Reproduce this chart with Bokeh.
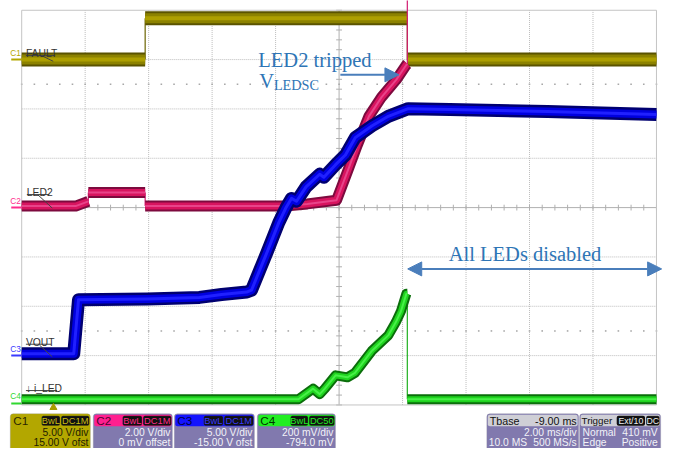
import math
from bokeh.plotting import figure
from bokeh.models import Range1d, Label, BoxAnnotation, Arrow, NormalHead
from bokeh.embed import file_html
from bokeh.resources import INLINE

# ---------------- data (time in ms, channel values in channel units) ----------------
fault_t = [-1.0, 2.89, 2.89, 11.15, 11.15, 19.0]
fault_v = [0.0, 0.0, 4.2, 4.2, 0.0, 0.0]                      # V

led2_t = [-1.0, 0.70, 1.10, 1.10, 2.89, 2.89, 7.30, 8.00, 8.92, 9.29, 9.57,
          9.94, 10.34, 10.80, 11.11, 11.15, 11.15, 19.0]
led2_v = [0.06, 0.06, 0.25, 0.61, 0.61, 0.06, 0.06, 0.15, 0.30, 1.55, 2.52,
          3.70, 4.48, 5.18, 5.77, 5.82, 12.0, 12.0]              # V

vout_t = [-1.0, 0.64, 0.79, 2.95, 4.60, 5.30, 6.09, 6.24, 6.74, 7.10, 7.32,
          7.50, 7.66, 7.96, 8.39, 8.52, 8.89, 9.20, 9.51, 10.03, 10.55,
          11.18, 12.49, 15.57, 19.0]
vout_v = [0.2, 0.2, 5.65, 5.75, 5.90, 6.20, 6.44, 6.63, 10.55, 13.48, 14.95,
          15.93, 15.64, 17.10, 18.38, 18.08, 19.35, 20.33, 22.09, 23.27, 24.25,
          25.03, 24.93, 24.74, 24.44]                            # V

iled_t = [-1.0, 7.72, 8.18, 8.39, 8.55, 8.89, 9.26, 9.50, 10.03, 10.55,
          10.79, 10.95, 11.12, 11.15, 11.15, 19.0]
iled_v = [17, 17, 60, 38, 60, 114, 106, 124, 213, 276, 330, 374, 445, 445, 17, 17]  # mV

# channel settings: (units per div, offset)
ch_scale = {"c1": (5.0, 15.0), "c2": (2.0, 0.0), "c3": (5.0, -15.0), "c4": (200.0, -794.0)}
ms_per_div = 2.0
t_left = -1.0
n_xdiv = 10
n_ydiv = 8
trigger_t = 0.0

# ---------------- layout (reference pixel geometry) ----------------
REF_W, REF_H = 683, 464
W, H = 667, 448
GX0, PX_DIV_X = 21.7, 65.0
GY_MID, PX_DIV_Y = 214.5, 51.1
FS = W / REF_W


def X(px):
    return t_left + (px - GX0) / PX_DIV_X * ms_per_div


def Y(py):
    return (GY_MID - py) / PX_DIV_Y


p = figure(width=W, height=H, x_range=Range1d(X(0), X(REF_W)),
           y_range=Range1d(Y(REF_H), Y(0)), output_backend="svg",
           toolbar_location=None, min_border=0, x_axis_type=None, y_axis_type=None)
p.outline_line_color = None
p.background_fill_color = "white"
p.border_fill_color = "white"

p.extra_y_ranges = {name: Range1d(Y(REF_H) * s - o, Y(0) * s - o)
                    for name, (s, o) in ch_scale.items()}

# ---------------- graticule ----------------
t_right = t_left + n_xdiv * ms_per_div
t_mid = t_left + n_xdiv / 2 * ms_per_div
half = n_ydiv / 2
gx = [t_left + k * ms_per_div for k in range(1, n_xdiv) if k != n_xdiv // 2]
gy = [k for k in range(-int(half) + 1, int(half)) if k != 0]
p.segment(x0=gx, y0=[-half] * len(gx), x1=gx, y1=[half] * len(gx),
          line_color="#bcbcbc", line_width=1, line_dash="1 1")
p.segment(x0=[t_left] * len(gy), y0=gy, x1=[t_right] * len(gy), y1=gy,
          line_color="#bcbcbc", line_width=1, line_dash="1 1")
# center cross
p.segment(x0=[t_mid, t_left], y0=[-half, 0], x1=[t_mid, t_right], y1=[half, 0],
          line_color="#b0b0b0", line_width=1)
dxt = 3 / PX_DIV_X * ms_per_div
dyt = 3 / PX_DIV_Y
vt = [-half + 0.2 * k for k in range(int(n_ydiv * 5) + 1)]
ht = [t_left + 0.2 * ms_per_div * k for k in range(n_xdiv * 5 + 1)]
p.segment(x0=[t_mid - dxt] * len(vt), y0=vt, x1=[t_mid + dxt] * len(vt), y1=vt,
          line_color="#b0b0b0", line_width=1)
p.segment(x0=ht, y0=[-dyt] * len(ht), x1=ht, y1=[dyt] * len(ht),
          line_color="#b0b0b0", line_width=1)
# dotted rows
for yy in (2.5, -2.5):
    p.scatter(ht, [yy] * len(ht), marker="square", size=1.6,
              fill_color="#a8a8a8", line_color=None)
# border
p.segment(x0=[t_left, t_left, t_left, t_right], y0=[-half, half, -half, -half],
          x1=[t_right, t_right, t_left, t_right], y1=[-half, half, half, half],
          line_color="#c4c4c4", line_width=1)


# ---------------- traces ----------------
def draw_trace(t, v, rng, layers, thin_color):
    px, py, thin_x, thin_y = [t[0]], [v[0]], [], []
    for i in range(len(t) - 1):
        if t[i + 1] != t[i]:
            px.append(t[i + 1])
            py.append(v[i + 1])
        else:
            thin_x.append([t[i], t[i + 1]])
            thin_y.append([v[i], v[i + 1]])
            px += [math.nan, t[i + 1]]
            py += [math.nan, v[i + 1]]
    if thin_x:
        p.multi_line(thin_x, thin_y, line_color=thin_color, line_width=1.2,
                     y_range_name=rng)
    for col, w in layers:
        p.line(px, py, line_color=col, line_width=w, line_join="round",
               line_cap="butt", y_range_name=rng)


draw_trace(fault_t, fault_v, "c1",
           [("#5a5300", 14), ("#8c8200", 10), ("#ad9f00", 4)], "#6b6400")
draw_trace(led2_t, led2_v, "c2",
           [("#7d0a3e", 11), ("#d8145f", 7), ("#e8448a", 2)], "#d21a70")
draw_trace(vout_t, vout_v, "c3",
           [("#000070", 13), ("#0000e0", 8), ("#2020ff", 3)], "#0000c0")
draw_trace(iled_t, iled_v, "c4",
           [("#0b6e0b", 10), ("#1fd41f", 6), ("#48f048", 2)], "#20b020")

# channel zero-level markers and tags
tag_colors = {"c1": "#b3a700", "c2": "#ff2e8e", "c3": "#3a3aff", "c4": "#30d830"}
for name, col in tag_colors.items():
    p.segment(x0=[X(11)], y0=[0], x1=[X(21.5)], y1=[0], line_color=col,
              line_width=2, y_range_name=name)
    lab = Label(x=X(10), y=0, y_range_name=name, text=name.upper(),
                text_font_size=f"{8.5 * FS:.1f}px", text_color=col,
                text_font="Liberation Sans", text_baseline="bottom",
                y_offset=2)
    p.add_layout(lab)

# trigger marker
p.scatter([trigger_t], [Y(421.5)], marker="triangle", size=7,
          fill_color="#a89c00", line_color="#a89c00")

# trace name labels with underline / pointer
trace_labels = [("FAULT", 26, 55, 56, (42, 57, 54, 63)),
                ("LED2", 27, 199, 50, (38, 201, 53, 215)),
                ("VOUT", 26, 354, 52, (40, 357, 53, 369)),
                ("\u2193 i_LED", 26, 402, 58, None)]
for txt_, x0, yb, x1, ptr in trace_labels:
    p.add_layout(Label(x=X(x0), y=Y(yb), text=txt_, text_font="Liberation Sans",
                       text_font_size=f"{10.5 * FS:.1f}px", text_color="#333333",
                       text_baseline="alphabetic"))
    p.segment(x0=[X(x0)], y0=[Y(yb + 2)], x1=[X(x1)], y1=[Y(yb + 2)],
              line_color="#444444", line_width=1)
    if ptr:
        p.segment(x0=[X(ptr[0])], y0=[Y(ptr[1])], x1=[X(ptr[2])], y1=[Y(ptr[3])],
                  line_color="#444444", line_width=1)

# ---------------- annotations ----------------
ANN = "#2e75b6"
SER = "Liberation Serif"
p.add_layout(Label(x=X(264), y=Y(62), text="LED2 tripped", text_font=SER,
                   text_font_size=f"{21 * FS:.1f}px", text_color=ANN,
                   text_baseline="alphabetic"))
p.add_layout(Label(x=X(265), y=Y(83), text="V", text_font=SER,
                   text_font_size=f"{21 * FS:.1f}px", text_color=ANN,
                   text_baseline="alphabetic"))
p.add_layout(Label(x=X(280), y=Y(88), text="LEDSC", text_font=SER,
                   text_font_size=f"{14.5 * FS:.1f}px", text_color=ANN,
                   text_baseline="alphabetic"))
p.add_layout(Label(x=X(459), y=Y(263), text="All LEDs disabled", text_font=SER,
                   text_font_size=f"{21 * FS:.1f}px", text_color=ANN,
                   text_baseline="alphabetic"))
AR = "#4a7ebb"
p.add_layout(Arrow(end=NormalHead(size=14, fill_color=AR, line_color=AR),
                   x_start=X(348), y_start=Y(77), x_end=X(408), y_end=Y(77),
                   line_color=AR, line_width=2))
p.add_layout(Arrow(start=NormalHead(size=14, fill_color=AR, line_color=AR),
                   end=NormalHead(size=14, fill_color=AR, line_color=AR),
                   x_start=X(417), y_start=Y(278), x_end=X(677), y_end=Y(278),
                   line_color=AR, line_width=2))

# ---------------- info boxes ----------------
SANS = "Liberation Sans"


def box(x0, x1, y0, y1, fill, line=None, radius=3):
    p.add_layout(BoxAnnotation(left=X(x0), right=X(x1), top=Y(y0), bottom=Y(y1),
                               fill_color=fill, fill_alpha=1.0,
                               line_color=line, line_width=1,
                               border_radius=radius))


def txt(px, py, s, col, size=10.5, align="left"):
    p.add_layout(Label(x=X(px), y=Y(py), text=s, text_font=SANS,
                       text_font_size=f"{size * FS:.1f}px", text_color=col,
                       text_align=align, text_baseline="middle"))


BODY = "#8179ae"
BOXY0, HDRY1, BOXY1 = 428, 441, 475
R1, R2 = 447.5, 457.5
channel_boxes = [
    # x0, x1, body, header, title col, badge text col, badges, lines, line col
    (10, 92, "#b3a700", "#b3a700", "#2a2600", "#c8bc10",
     [("BwL", 42, 61), ("DC1M", 62, 91)], ["5.00 V/div", "15.00 V ofst"], "#1e1c00"),
    (95, 176, BODY, "#ff1f8f", "#4a0630", "#ff2a8a",
     [("BwL", 125, 145), ("DC1M", 146, 175)], ["2.00 V/div", "0 mV offset"], "#f2f2f8"),
    (178, 260, BODY, "#1414ff", "#000040", "#3a3aff",
     [("BwL", 208, 228), ("DC1M", 229, 259)], ["5.00 V/div", "-15.00 V ofst"], "#f2f2f8"),
    (263, 343, BODY, "#22ee22", "#003300", "#22ee22",
     [("BwL", 297, 315), ("DC50", 316, 342)], ["200 mV/div", "-794.0 mV"], "#f2f2f8"),
]
for i, (x0, x1, body, hdr, tcol, bcol, badges, lines, lcol) in enumerate(channel_boxes):
    box(x0, x1, BOXY0, BOXY1, body, "#8a8a9a")
    box(x0 + 1, x1 - 1, BOXY0 + 1, HDRY1, hdr, None, 2)
    txt(x0 + 3, 435, f"C{i + 1}", tcol, 12)
    for b, bx0, bx1 in badges:
        box(bx0, bx1, 430, 440.5, "#111111", bcol, 2)
        txt((bx0 + bx1) / 2, 435.5, b, bcol, 9.5, "center")
    txt(x1 - 2, R1, lines[0], lcol, 10.5, "right")
    txt(x1 - 2, R2, lines[1], lcol, 10.5, "right")

# Timebase
box(498, 592, BOXY0, BOXY1, BODY, "#8a8a9a")
box(499, 591, BOXY0 + 1, HDRY1, "#cfcfd6", None, 2)
txt(501, 435, "Tbase", "#111111", 11)
txt(590, 435, "-9.00 ms", "#111111", 11, "right")
txt(590, R1, "2.00 ms/div", "#f2f2f8", 10.5, "right")
txt(500, R2, "10.0 MS", "#f2f2f8", 10.5)
txt(590, R2, "500 MS/s", "#f2f2f8", 10.5, "right")
# Trigger
box(593, 676, BOXY0, BOXY1, BODY, "#8a8a9a")
box(594, 675, BOXY0 + 1, HDRY1, "#cfcfd6", None, 2)
txt(595, 435, "Trigger", "#111111", 10)
box(631, 660, 430, 440.5, "#111111", None, 2)
txt(645.5, 435.5, "Ext/10", "#f0f0f0", 9, "center")
box(661, 675, 430, 440.5, "#111111", "#eeeeee", 2)
txt(668, 435.5, "DC", "#f0f0f0", 9, "center")
txt(596, R1, "Normal", "#f2f2f8", 10.5)
txt(673, R1, "410 mV", "#f2f2f8", 10.5, "right")
txt(596, R2, "Edge", "#f2f2f8", 10.5)
txt(673, R2, "Positive", "#f2f2f8", 10.5, "right")

open("out.html", "w").write(file_html(p, INLINE))
